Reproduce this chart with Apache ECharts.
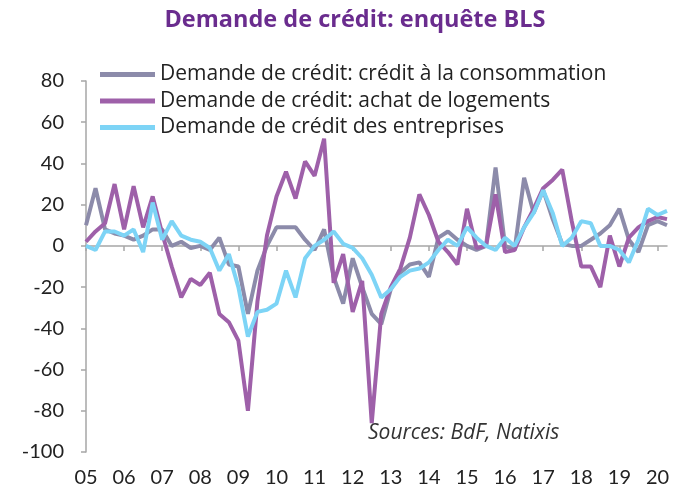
<!DOCTYPE html>
<html>
<head>
<meta charset="utf-8">
<script src="https://cdn.jsdelivr.net/npm/echarts@6/dist/echarts.min.js"></script>
<style>
html,body{margin:0;padding:0;background:#fff;}
#chart{width:675px;height:496px;}
</style>
</head>
<body>
<div id="chart"></div>
<script>
// Quarterly, 2005Q1 .. 2020Q2
const years = ['05','06','07','08','09','10','11','12','13','14','15','16','17','18','19','20'];
const categories = [];
for (let y = 0; y < years.length; y++) {
  for (let q = 1; q <= 4; q++) categories.push(years[y] + 'Q' + q);
}
categories.length = 62;

const nameConso = 'Demande de crédit: crédit à la consommation';
const nameLogement = 'Demande de crédit: achat de logements';
const nameEntreprises = 'Demande de crédit des entreprises';

const conso = [10, 28, 8, 6, 5, 3, 5, 8, 8, 0, 2, -1, 0, -2, 4, -9, -10, -33, -12, 0,
  9, 9, 9, 3, -2, 8, -15, -28, -6, -20, -33, -38, -21, -13, -9, -8, -15, 4, 7, 3,
  0, -2, 0, 38, 0, -2, 33, 16, 27, 13, 1, 0, 0, 3, 6, 10, 18, 3, -3, 10, 12, 10];

const logement = [2, 7, 11, 30, 8, 29, 9, 24, 6, -10, -25, -16, -19, -13, -33, -37, -46, -80, -27, 5,
  24, 36, 23, 41, 34, 52, -18, -4, -32, -17, -86, -33, -20, -11, 4, 25, 15, 2, -3, -9,
  18, -1, 0, 25, -3, -2, 9, 18, 28, 32, 37, 12, -10, -10, -20, 5, -10, 4, 9, 12, 14, 13];

const entreprises = [0, -2, 7, 7, 5, 8, -3, 21, 3, 12, 5, 3, 2, -1, -12, -4, -20, -44, -32, -31,
  -28, -12, -25, -6, 0, 3, 7, 1, -1, -6, -14, -25, -21, -15, -12, -11, -8, -2, 3, 0,
  9, 4, 0, -2, 4, 0, 9, 16, 27, 16, 0, 4, 12, 11, 0, 0, -2, -8, 3, 18, 15, 17];

const yTicks = [-100, -80, -60, -40, -20, 0, 20, 40, 60, 80];

const FONT = '"Open Sans"';
const NUMFONT = 'Lato';
const chart = echarts.init(document.getElementById('chart'), null, {renderer: 'canvas'});

const option = {
  animation: false,
  backgroundColor: '#ffffff',
  graphic: [
    {type: 'text', x: 355, y: 8,
     style: {text: 'Demande de crédit: enquête BLS', fill: '#6A2C8E', font: 'bold 23.5px ' + FONT, align: 'center'}},
    {type: 'text', left: 368, top: 423,
     style: {text: 'Sources: BdF, Natixis', fill: '#333', font: 'italic 21px ' + FONT}}
  ],
  legend: {
    orient: 'vertical', left: 95, top: 59,
    itemWidth: 55, itemHeight: 5, itemGap: 5.5, icon: 'rect',
    textStyle: {fontFamily: FONT, fontSize: 21, color: '#222', lineHeight: 21},
    data: [nameConso, nameLogement, nameEntreprises]
  },
  grid: {left: 86, right: 8, top: 81, bottom: 44, containLabel: false},
  xAxis: [
    {type: 'category', data: categories, boundaryGap: false,
     axisLine: {onZero: true, lineStyle: {color: '#A6A6A6', width: 1.5}},
     axisTick: {show: true, interval: 3, length: 5, lineStyle: {color: '#A6A6A6', width: 1.5}},
     axisLabel: {show: false}, splitLine: {show: false}},
    {type: 'category', data: categories, boundaryGap: false, position: 'bottom',
     axisLine: {show: false}, axisTick: {show: false}, splitLine: {show: false},
     axisLabel: {show: true, interval: 3, margin: 16, fontFamily: NUMFONT, fontSize: 20, color: '#222',
       formatter: v => v.slice(0, 2)}}
  ],
  yAxis: {
    type: 'value', min: -100, max: 80, interval: 20,
    axisLine: {show: true, lineStyle: {color: '#A6A6A6', width: 1.5}},
    axisTick: {show: true, length: 5, lineStyle: {color: '#A6A6A6', width: 1.5}},
    splitLine: {show: false},
    axisLabel: {margin: 22, fontFamily: NUMFONT, fontSize: 20, color: '#222'}
  },
  series: [
    {name: nameConso, type: 'line', data: conso, symbol: 'none', xAxisIndex: 0,
     lineStyle: {color: '#8C8BAA', width: 4}, itemStyle: {color: '#8C8BAA'}},
    {name: nameLogement, type: 'line', data: logement, symbol: 'none', xAxisIndex: 0,
     lineStyle: {color: '#9E60A9', width: 4}, itemStyle: {color: '#9E60A9'}},
    {name: nameEntreprises, type: 'line', data: entreprises, symbol: 'none', xAxisIndex: 0,
     lineStyle: {color: '#7DD4F6', width: 4}, itemStyle: {color: '#7DD4F6'}}
  ]
};
chart.setOption(option);
</script>
</body>
</html>
